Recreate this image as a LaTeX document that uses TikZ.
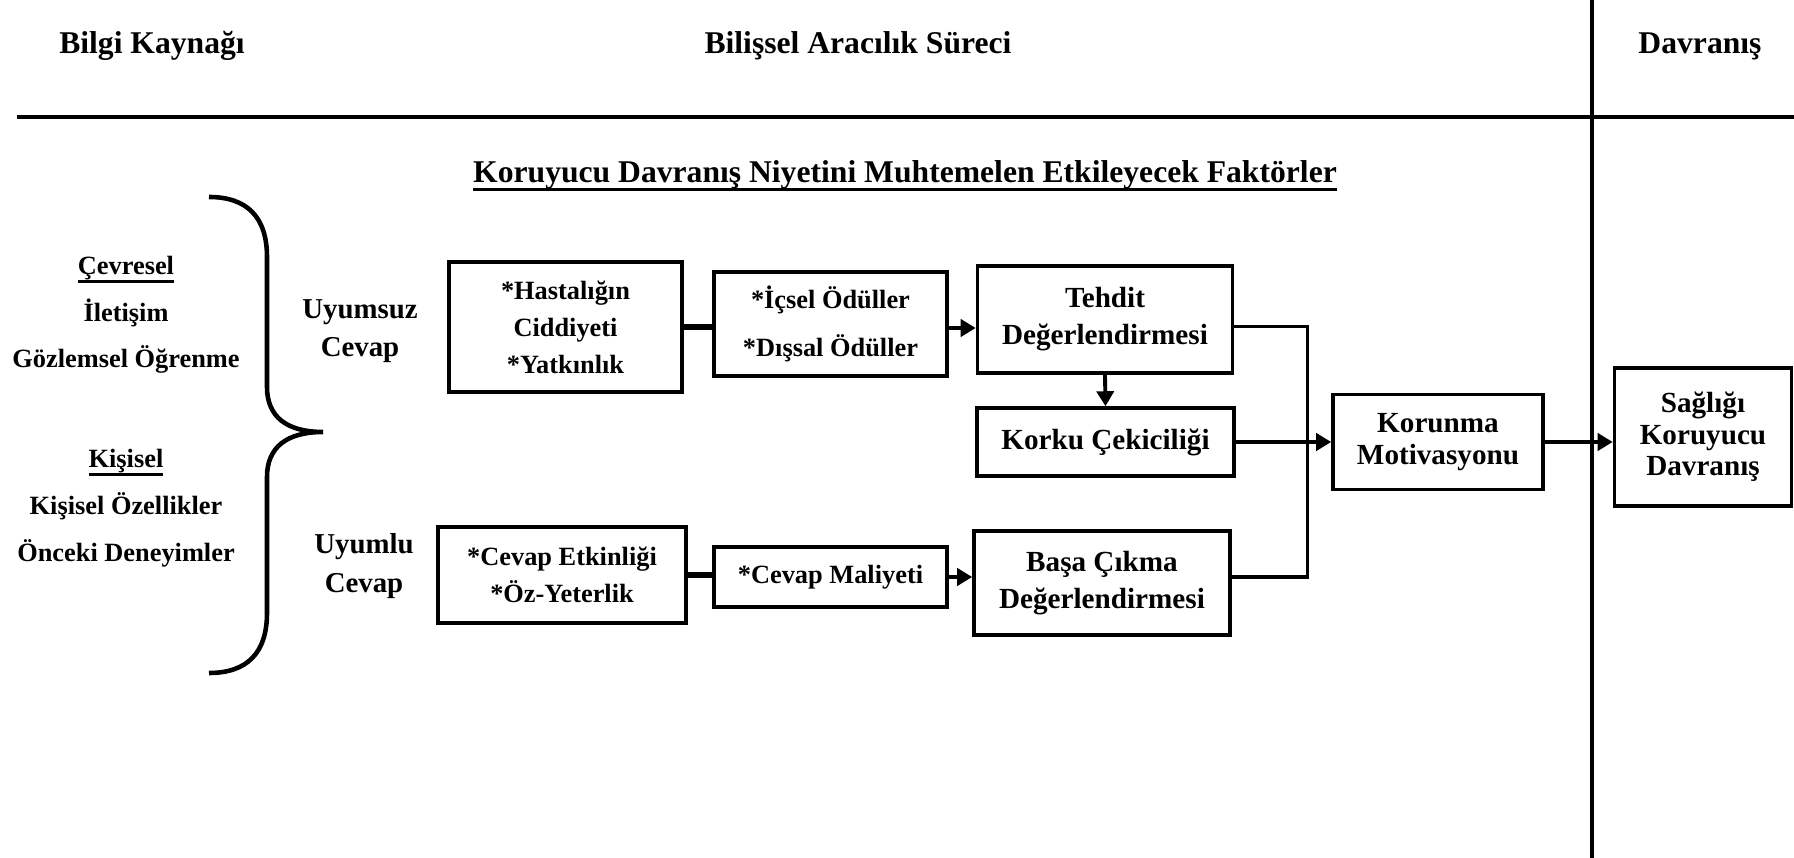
\documentclass[tikz,border=0pt]{standalone}
\usepackage{fontspec}
\setmainfont{Liberation Serif}
\usepackage{tikz}
\usetikzlibrary{arrows.meta}
\newcommand{\ulthick}[1]{\setbox0\hbox{#1}\leavevmode\rlap{\rule[-2.3pt]{\wd0}{0.8pt}}\box0}

\begin{document}
\begin{tikzpicture}[
  x=1cm, y=-1cm,
  block/.style={rectangle, draw, line width=1pt, align=center, inner sep=2pt,
                font=\bfseries\fontsize{#1}{10.5}\selectfont},
  block/.default={8.3},
  header/.style={font=\bfseries\fontsize{9}{11}\selectfont},
  txt/.style={align=center, font=\bfseries\fontsize{8.2}{11}\selectfont},
  source/.style={align=center, font=\bfseries\fontsize{7.5}{13.3}\selectfont},
  arrow/.style={-{Triangle[length=1.5mm,width=1.7mm]}, line width=1.1pt},
  link/.style={line width=1.6pt},
  wire/.style={line width=0.9pt}
]
  \useasboundingbox (0,0) rectangle (17.94,8.58);

  % column heads and rules
  \node[header] (bilgi) at (1.52,0.46) {Bilgi Kaynağı};
  \node[header] (surec) at (8.58,0.46) {Bilişsel Aracılık Süreci};
  \node[header] (davranis) at (17.00,0.46) {Davranış};
  \draw[line width=1.2pt] (0.17,1.17) -- (17.94,1.17);
  \draw[line width=1pt] (15.92,0) -- (15.92,8.58);
  \node[header] (faktor) at (9.05,1.76)
    {\ulthick{Koruyucu Davranış Niyetini Muhtemelen Etkileyecek Faktörler}};

  % information sources
  \node[source] (cevresel) at (1.26,3.15) {\ulthick{Çevresel}\\İletişim\\Gözlemsel Öğrenme};
  \node[source] (kisisel) at (1.26,5.08) {\ulthick{Kişisel}\\Kişisel Özellikler\\Önceki Deneyimler};
  \draw[line width=1.3pt]
    (2.09,1.97) .. controls (2.47,1.97) and (2.67,2.17) .. (2.67,2.57) -- (2.67,3.87)
    .. controls (2.67,4.17) and (2.87,4.32) .. (3.23,4.32)
    .. controls (2.87,4.32) and (2.67,4.47) .. (2.67,4.77) -- (2.67,6.13)
    .. controls (2.67,6.53) and (2.47,6.73) .. (2.09,6.73);

  \node[txt] (uyumsuz) at (3.60,3.31) {Uyumsuz\\Cevap};
  \node[txt] (uyumlu) at (3.64,5.66) {Uyumlu\\Cevap};

  % mediating process
  \node[block=7.5, minimum width=2.33cm, minimum height=1.30cm] (hast) at (5.655,3.27)
    {*Hastalığın\\Ciddiyeti\\*Yatkınlık};
  \node[block=7.5, minimum width=2.33cm, minimum height=1.04cm] (icsel) at (8.305,3.24)
    {*İçsel Ödüller\\[3pt]*Dışsal Ödüller};
  \node[block, minimum width=2.55cm, minimum height=1.07cm] (tehdit) at (11.05,3.195)
    {Tehdit\\Değerlendirmesi};
  \node[block, minimum width=2.57cm, minimum height=0.68cm] (korku) at (11.055,4.42)
    {Korku Çekiciliği};
  \node[block=7.5, minimum width=2.48cm, minimum height=0.96cm] (cevapet) at (5.62,5.75)
    {*Cevap Etkinliği\\*Öz-Yeterlik};
  \node[block=7.5, minimum width=2.33cm, minimum height=0.60cm] (maliyet) at (8.305,5.77)
    {*Cevap Maliyeti};
  \node[block, minimum width=2.56cm, minimum height=1.04cm] (basa) at (11.02,5.83)
    {Başa Çıkma\\Değerlendirmesi};
  \node[block, minimum width=2.10cm, minimum height=0.95cm] (korunma) at (14.38,4.42)
    {Korunma\\[-1.5pt]Motivasyonu};
  \node[block, minimum width=1.77cm, minimum height=1.38cm] (saglik) at (17.03,4.37)
    {Sağlığı\\[-1.5pt]Koruyucu\\[-1.5pt]Davranış};

  \draw[link] (hast.east) -- (hast.east -| icsel.west);
  \draw[arrow] ([yshift=-0.04cm]icsel.east) -- ([yshift=-0.04cm]icsel.east -| tehdit.west);
  \draw[arrow] (tehdit.south) -- (korku.north);
  \draw[link] (cevapet.east) -- (cevapet.east -| maliyet.west);
  \draw[arrow] (maliyet.east) -- (maliyet.east -| basa.west);
  \draw[wire] ([yshift=-0.07cm]tehdit.east) -- ++(0.73,0) |- ([yshift=0.06cm]basa.east);
  \draw[arrow] (korku.east) -- (korku.east -| korunma.west);
  \draw[arrow] (korunma.east) -- (korunma.east -| saglik.west);
\end{tikzpicture}
\end{document}
